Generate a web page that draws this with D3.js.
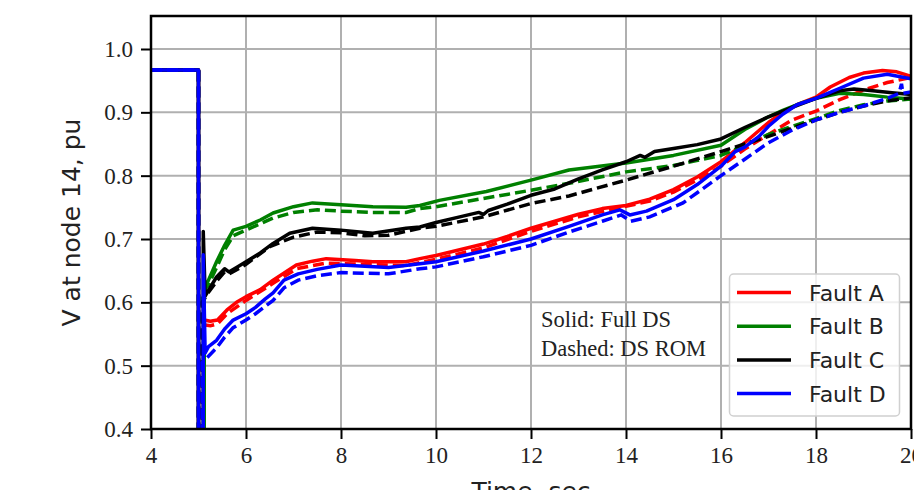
<!DOCTYPE html>
<html>
<head>
<meta charset="utf-8">
<script src="https://cdn.jsdelivr.net/npm/d3@7"></script>
<style>
  html, body { margin: 0; padding: 0; background: #fff; }
  svg { display: block; }
</style>
</head>
<body>
<svg id="chart" width="914" height="490"></svg>
<script>
// ---------- data ----------
const xTicks = [4, 6, 8, 10, 12, 14, 16, 18, 20];
const yTicks = [0.4, 0.5, 0.6, 0.7, 0.8, 0.9, 1.0];
const faultNames = ["Fault A", "Fault B", "Fault C", "Fault D"];
const faultColors = ["#ff0000", "#008000", "#000000", "#0000ff"];
const prefault = [[4, 0.967], [5.0, 0.967], [5.0, 0.1]];

const faultA_full = [[5.12,0.1],[5.12,0.572],[5.25,0.57],[5.4,0.572],[5.6,0.588],[5.8,0.6],[6,0.609],[6.3,0.62],[6.57,0.635],[7.06,0.659],[7.4,0.665],[7.69,0.669],[8.3,0.666],[8.67,0.664],[9.37,0.664],[9.66,0.669],[10,0.674],[10.5,0.683],[11,0.692],[11.5,0.704],[12,0.717],[12.5,0.728],[13,0.739],[13.5,0.748],[14,0.753],[14.5,0.763],[15,0.778],[15.5,0.798],[16,0.822],[16.5,0.852],[17,0.884],[17.3,0.9],[17.6,0.912],[18,0.924],[18.3,0.94],[18.7,0.955],[19,0.962],[19.4,0.966],[19.7,0.964],[20,0.957]];
const faultA_rom = [[5.08,0.1],[5.08,0.565],[5.25,0.563],[5.4,0.566],[5.6,0.582],[6,0.603],[6.57,0.63],[7.06,0.653],[7.69,0.662],[8.5,0.66],[9.37,0.658],[10,0.668],[11,0.686],[12,0.712],[13,0.735],[13.9,0.75],[14.5,0.76],[15,0.774],[15.5,0.793],[16,0.815],[16.5,0.842],[17,0.865],[17.5,0.888],[18,0.902],[18.5,0.92],[19,0.935],[19.5,0.947],[20,0.955]];

const faultB_full = [[5.12,0.1],[5.12,0.625],[5.21,0.635],[5.38,0.664],[5.55,0.69],[5.73,0.714],[6,0.72],[6.3,0.73],[6.57,0.741],[7,0.751],[7.4,0.757],[8,0.754],[8.67,0.751],[9.37,0.75],[9.66,0.753],[10.07,0.761],[11.06,0.775],[12,0.793],[12.8,0.809],[14,0.82],[15,0.832],[16,0.848],[16.5,0.873],[17,0.893],[17.3,0.903],[17.7,0.915],[18,0.922],[18.5,0.93],[19,0.928],[19.5,0.924],[20,0.921]];
const faultB_rom = [[5.08,0.1],[5.08,0.615],[5.21,0.628],[5.38,0.655],[5.55,0.683],[5.73,0.705],[6,0.714],[6.57,0.733],[7,0.742],[7.5,0.746],[8,0.744],[8.67,0.742],[9.37,0.742],[9.66,0.748],[10,0.751],[11,0.764],[12,0.777],[12.8,0.788],[14,0.806],[15,0.816],[16,0.832],[16.5,0.848],[17,0.865],[17.5,0.878],[18,0.89],[18.5,0.903],[19,0.912],[19.5,0.918],[20,0.921]];

const faultC_full = [[5.1,0.1],[5.1,0.712],[5.14,0.61],[5.21,0.619],[5.38,0.64],[5.55,0.653],[5.64,0.648],[5.8,0.655],[6,0.664],[6.3,0.678],[6.57,0.693],[6.92,0.709],[7.4,0.717],[8,0.714],[8.67,0.709],[9.37,0.717],[9.66,0.719],[10,0.726],[10.5,0.735],[10.9,0.742],[11.0,0.739],[11.1,0.745],[11.5,0.755],[12,0.769],[12.5,0.779],[13,0.795],[13.5,0.809],[14,0.822],[14.3,0.832],[14.4,0.829],[14.6,0.838],[15,0.843],[15.5,0.849],[16,0.858],[16.5,0.876],[17,0.893],[17.5,0.908],[18,0.922],[18.5,0.934],[18.8,0.937],[19.2,0.934],[19.6,0.931],[20,0.928]];
const faultC_rom = [[5.08,0.1],[5.08,0.6],[5.2,0.615],[5.4,0.635],[5.55,0.648],[5.65,0.645],[6,0.66],[6.5,0.688],[7,0.703],[7.5,0.711],[8,0.71],[8.5,0.705],[9,0.706],[9.66,0.717],[10,0.72],[11,0.735],[12,0.756],[12.8,0.768],[14,0.793],[15,0.815],[16,0.838],[16.5,0.85],[17,0.862],[17.5,0.875],[18,0.888],[18.5,0.9],[19,0.91],[19.5,0.918],[20,0.923]];

const faultD_full = [[5.1,0.1],[5.1,0.675],[5.14,0.52],[5.21,0.53],[5.38,0.54],[5.55,0.558],[5.73,0.572],[6,0.582],[6.2,0.592],[6.4,0.605],[6.57,0.615],[6.8,0.635],[7.1,0.645],[7.5,0.652],[8,0.659],[8.5,0.657],[9,0.655],[9.66,0.661],[10,0.664],[11,0.681],[12,0.7],[12.8,0.72],[13.5,0.738],[13.87,0.746],[14.08,0.738],[14.43,0.744],[15,0.762],[15.5,0.786],[16,0.815],[16.3,0.838],[16.5,0.845],[16.8,0.862],[17,0.878],[17.3,0.897],[17.6,0.912],[18,0.922],[18.5,0.938],[19,0.954],[19.5,0.96],[20,0.953]];
const faultD_rom = [[5.08,0.1],[5.08,0.505],[5.21,0.515],[5.38,0.528],[5.55,0.545],[5.73,0.56],[6,0.572],[6.2,0.582],[6.57,0.603],[6.8,0.623],[7.1,0.635],[7.5,0.642],[8,0.647],[8.5,0.646],[9,0.645],[9.66,0.653],[10,0.656],[11,0.672],[12,0.69],[12.8,0.711],[13.5,0.728],[13.9,0.738],[14.1,0.728],[14.5,0.735],[15.2,0.757],[16,0.8],[16.5,0.826],[17,0.852],[17.5,0.872],[18,0.888],[18.5,0.9],[19,0.91],[19.5,0.922],[19.75,0.93],[19.8,0.945],[19.83,0.93],[20,0.932]];

const fullSeries = [faultA_full, faultB_full, faultC_full, faultD_full];
const romSeries  = [faultA_rom,  faultB_rom,  faultC_rom,  faultD_rom];
const noteLines = ["Solid: Full DS", "Dashed: DS ROM"];
const yLabel = "V at node 14, pu";
const xLabel = "Time, sec";

// ---------- layout ----------
const L = 151, R = 911, T = 16, B = 429;
const svg = d3.select("#chart");
const x = d3.scaleLinear().domain([4, 20]).range([L, R]);
const y = d3.scaleLinear().domain([0.4, 1.0521]).range([B, T]);

// grid
const grid = svg.append("g");
grid.selectAll("line.vx").data(xTicks).enter().append("line")
  .attr("x1", d => x(d)).attr("x2", d => x(d)).attr("y1", T).attr("y2", B)
  .attr("stroke", "#b0b0b0").attr("stroke-width", 2);
grid.selectAll("line.hy").data(yTicks).enter().append("line")
  .attr("x1", L).attr("x2", R).attr("y1", d => y(d)).attr("y2", d => y(d))
  .attr("stroke", "#b0b0b0").attr("stroke-width", 2);

// clip
svg.append("defs").append("clipPath").attr("id", "clip")
  .append("rect").attr("x", L).attr("y", T).attr("width", R - L).attr("height", B - T);

const line = d3.line().x(d => x(d[0])).y(d => y(d[1]));
const plot = svg.append("g").attr("clip-path", "url(#clip)");
for (let i = 0; i < 4; i++) {
  plot.append("path").datum(prefault.concat(fullSeries[i]))
    .attr("d", line).attr("fill", "none").attr("stroke", faultColors[i])
    .attr("stroke-width", 3.5).attr("stroke-linejoin", "round");
  plot.append("path").datum(prefault.concat(romSeries[i]))
    .attr("d", line).attr("fill", "none").attr("stroke", faultColors[i])
    .attr("stroke-width", 3.5).attr("stroke-dasharray", "11,5");
}

// axes
const xAxis = d3.axisBottom(x).tickValues(xTicks).tickSize(10).tickPadding(6).tickFormat(d3.format("d"));
const yAxis = d3.axisLeft(y).tickValues(yTicks).tickSize(10).tickPadding(8).tickFormat(d3.format(".1f"));
const gx = svg.append("g").attr("transform", `translate(0,${B})`).call(xAxis);
const gy = svg.append("g").attr("transform", `translate(${L},0)`).call(yAxis);
[gx, gy].forEach(g => {
  g.select(".domain").remove();
  g.selectAll(".tick line").attr("stroke", "#000").attr("stroke-width", 2);
  g.selectAll(".tick text").attr("fill", "#222")
    .style("font-family", "'Liberation Serif', serif").style("font-size", "23px");
});
gx.selectAll(".tick text").attr("dy", "0.78em");

// frame
svg.append("rect").attr("x", L).attr("y", T).attr("width", R - L).attr("height", B - T)
  .attr("fill", "none").attr("stroke", "#000").attr("stroke-width", 2.5);

// axis labels
svg.append("text").attr("transform", `translate(80,${(T + B) / 2}) rotate(-90)`)
  .attr("text-anchor", "middle").attr("fill", "#222")
  .style("font-family", "'DejaVu Sans', sans-serif").style("font-size", "25px")
  .text(yLabel);
svg.append("text").attr("x", (L + R) / 2).attr("y", 500)
  .attr("text-anchor", "middle").attr("fill", "#222")
  .style("font-family", "'DejaVu Sans', sans-serif").style("font-size", "25px")
  .text(xLabel);

// note
svg.selectAll("text.note").data(noteLines).enter().append("text")
  .attr("x", 541).attr("y", (d, i) => 327 + i * 29).attr("fill", "#222")
  .style("font-family", "'Liberation Serif', serif").style("font-size", "22.5px")
  .text(d => d);

// legend
const lg = svg.append("g");
lg.append("rect").attr("x", 729.5).attr("y", 274).attr("width", 170).attr("height", 142)
  .attr("rx", 4).attr("fill", "#fff").attr("fill-opacity", 0.8)
  .attr("stroke", "#d0d0d0").attr("stroke-width", 1.5);
faultNames.forEach((name, i) => {
  const cy = 292.5 + i * 33.7;
  lg.append("line").attr("x1", 737).attr("x2", 791).attr("y1", cy).attr("y2", cy)
    .attr("stroke", faultColors[i]).attr("stroke-width", 3.5);
  lg.append("text").attr("x", 809).attr("y", cy + 8).attr("fill", "#222")
    .style("font-family", "'DejaVu Sans', sans-serif").style("font-size", "22px")
    .text(name);
});
</script>
</body>
</html>
